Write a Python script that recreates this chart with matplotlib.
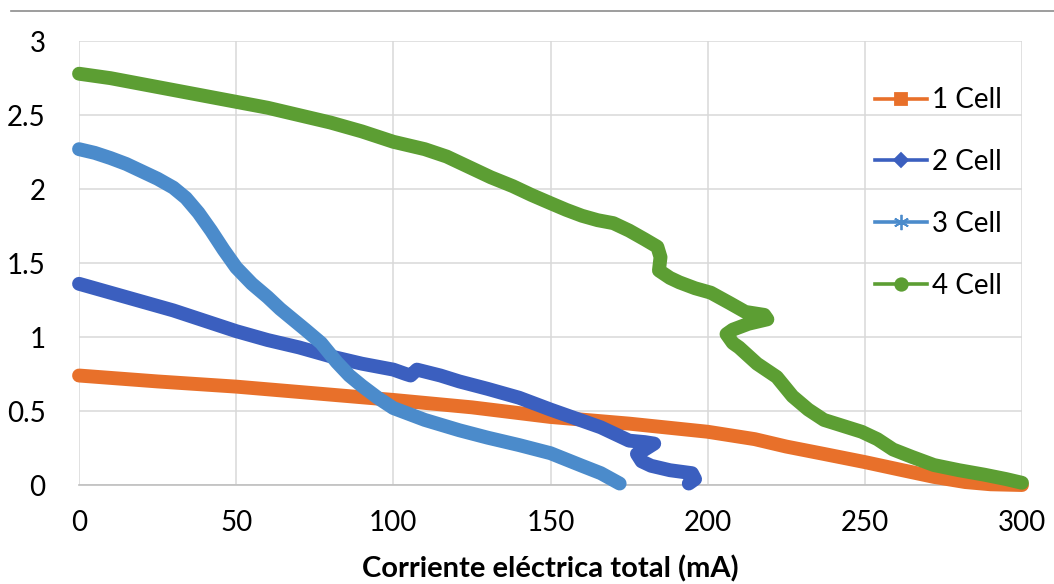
import numpy as np
import matplotlib
matplotlib.use("Agg")
import matplotlib.pyplot as plt
from matplotlib.lines import Line2D

plt.rcParams['font.family'] = ['Lato', 'DejaVu Sans']

# Voltage (V) against total current (mA) for 1..4 cells in series
x1 = [0, 25, 50, 75, 100, 125, 150, 175, 200, 215, 225, 237, 250, 262, 272, 282, 290, 300]
y1 = [0.74, 0.70, 0.665, 0.62, 0.575, 0.525, 0.46, 0.415, 0.36, 0.31, 0.26, 0.21,
      0.155, 0.10, 0.055, 0.02, 0.005, 0.0]

x2 = [0, 10, 20, 30, 40, 50, 60, 70, 80, 90, 100, 104, 105.5, 107.5, 115, 121, 130,
      140, 150, 158, 166, 171, 175, 180, 183, 180, 177.5, 179, 182, 188, 195, 196, 194]
y2 = [1.36, 1.30, 1.24, 1.18, 1.11, 1.04, 0.98, 0.93, 0.87, 0.82, 0.78, 0.75, 0.74,
      0.78, 0.74, 0.70, 0.65, 0.59, 0.51, 0.45, 0.39, 0.34, 0.30, 0.29, 0.28, 0.24,
      0.21, 0.16, 0.13, 0.10, 0.08, 0.04, 0.01]

x3 = [0, 5, 10, 15, 20, 25, 30, 34, 38, 42, 46, 50, 55, 60, 64, 68, 72, 77, 82, 86,
      90, 95, 100, 110, 121, 130, 140, 150, 160, 166, 172]
y3 = [2.27, 2.245, 2.21, 2.17, 2.12, 2.07, 2.01, 1.94, 1.84, 1.72, 1.59, 1.47, 1.36,
      1.27, 1.19, 1.12, 1.05, 0.96, 0.83, 0.74, 0.67, 0.59, 0.52, 0.44, 0.37, 0.32,
      0.27, 0.215, 0.13, 0.08, 0.01]

x4 = [0, 10, 20, 30, 40, 50, 60, 70, 80, 90, 100, 110, 117, 124, 131, 138, 144, 150,
      155, 160, 165, 170, 175, 180, 184, 185, 184.5, 188, 191, 196, 201, 207, 212, 218,
      219, 213, 208, 206, 208, 210, 215.7, 222, 227, 232, 237, 243, 249, 254, 259, 265,
      272, 280, 288, 295, 300]
y4 = [2.78, 2.75, 2.71, 2.67, 2.63, 2.59, 2.55, 2.50, 2.45, 2.39, 2.32, 2.27, 2.22,
      2.15, 2.08, 2.02, 1.96, 1.905, 1.86, 1.82, 1.79, 1.77, 1.72, 1.66, 1.61, 1.54,
      1.45, 1.40, 1.37, 1.33, 1.30, 1.23, 1.17, 1.15, 1.12, 1.09, 1.05, 1.02, 0.96,
      0.93, 0.82, 0.73, 0.60, 0.51, 0.44, 0.40, 0.36, 0.31, 0.24, 0.19, 0.135, 0.10,
      0.07, 0.04, 0.015]

series = [
    ("1 Cell", x1, y1, "#E8702A", "s", 8),
    ("2 Cell", x2, y2, "#3B5FBF", "D", 7),
    ("3 Cell", x3, y3, "#4B8BCB", (6, 2, 0), 11),
    ("4 Cell", x4, y4, "#5C9E33", "o", 9),
]

fig = plt.figure(figsize=(10.54, 5.84), dpi=100)
ax = fig.add_axes([0.075, 0.1695, 0.8946, 0.760])

handles = []
for i, (name, xs, ys, col, mk, ms) in enumerate(series):
    ax.plot(xs, ys, color=col, lw=10, solid_capstyle='round',
            solid_joinstyle='round', clip_on=False, zorder=3 + i)
    handles.append(Line2D([], [], color=col, lw=2.6, marker=mk, ms=ms,
                          mew=1.3, label=name))

ax.set_xlim(0, 300)
ax.set_ylim(0, 3)
ax.set_xticks(np.arange(0, 301, 50))
ax.set_yticks([0, 0.5, 1, 1.5, 2, 2.5, 3])
ax.set_yticklabels(['0', '0.5', '1', '1.5', '2', '2.5', '3'])
ax.grid(True, color='#D9D9D9', lw=1.1, zorder=0)
ax.set_axisbelow(True)
for s in ['top', 'right', 'left']:
    ax.spines[s].set_visible(False)
ax.spines['bottom'].set_color('#BFBFBF')
ax.spines['bottom'].set_linewidth(1.2)
ax.tick_params(length=0, labelsize=20, colors='#000000')
ax.tick_params(axis='y', pad=24)
ax.tick_params(axis='x', pad=18)

ax.set_xlabel('Corriente eléctrica total (mA)', fontsize=21, fontweight='bold',
              labelpad=14)

ax.legend(handles=handles, loc='upper left', bbox_to_anchor=(0.832, 0.921),
          frameon=False, fontsize=20, handlelength=1.9, handletextpad=0.15,
          labelspacing=1.29, borderaxespad=0)

# thin rule across the top of the figure
fig.add_artist(Line2D([0.01, 1.0], [1 - 11 / 584, 1 - 11 / 584],
                      color='#8C8C8C', lw=1.2))

fig.savefig('out.png', dpi=100)
